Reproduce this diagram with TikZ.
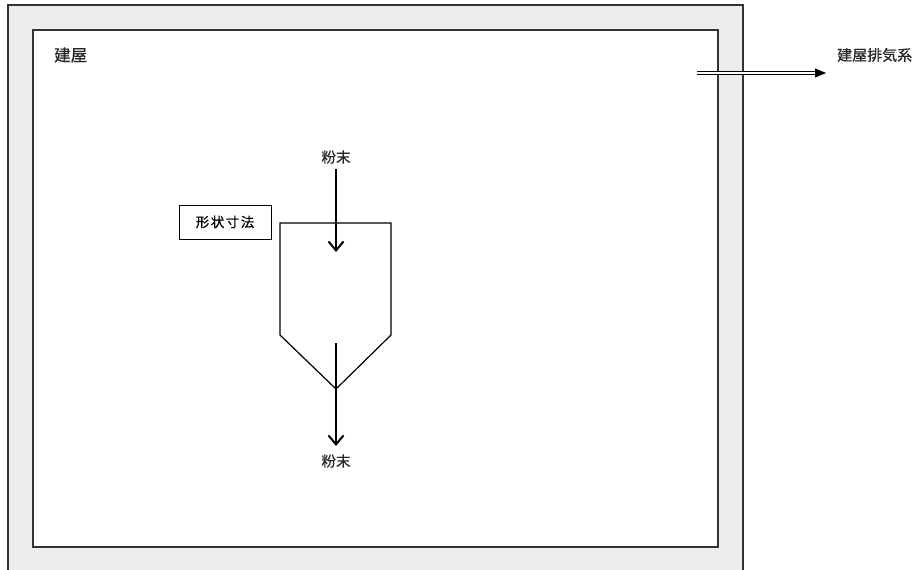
\documentclass[tikz,border=0pt]{standalone}
\usepackage{fontspec}
\newfontfamily\cjk[FakeBold=0.6]{Noto Sans CJK JP}
\usetikzlibrary{arrows.meta}
\begin{document}
\begin{tikzpicture}[x=1pt,y=-1pt,
  wall/.style={draw=black!80, line width=1.2pt},
  flowarrow/.style={line width=2pt, -{Straight Barb[length=9pt,width=15pt,line width=2pt]}},
  lbl/.style={font=\cjk\fontsize{14.5}{16}\selectfont, text=black!85, inner sep=0pt},
  tagbox/.style={draw, line width=1pt, font=\cjk\fontsize{13.5}{15}\selectfont, minimum width=92pt, minimum height=34pt, inner sep=0pt}
]
\useasboundingbox (0,0) rectangle (919,570);
\fill[white] (0,0) rectangle (919,570);
% building walls
\begin{scope}
\clip (0,0) rectangle (919,570);
\draw[wall, fill=black!7] (8,5) rectangle (743,575);
\end{scope}
\draw[wall, fill=white] (33,30) rectangle (718,547);
\node[font=\cjk\fontsize{16.5}{18}\selectfont, text=black!85, anchor=west, inner sep=0pt] (bldg) at (54,55) {建屋};
% exhaust
\coordinate (exA) at (697,73);
\coordinate (exB) at (826,73);
\draw[line width=0.8pt, double, double distance=2pt, -{Triangle[length=11pt,width=9pt]}] (exA) -- (exB);
\node[lbl, font=\cjk\fontsize{15}{17}\selectfont, anchor=west] (exh) at (837,55) {建屋排気系};
% hopper
\coordinate (h1) at (280,223);
\coordinate (h2) at (391,223);
\coordinate (h3) at (391,335);
\coordinate (h4) at (336,389);
\coordinate (h5) at (280,335);
\draw[line width=1.2pt] (h1) -- (h2) -- (h3) -- (h4) -- (h5) -- cycle;
% powder labels
\node[lbl] (pin) at (336,157) {粉末};
\node[lbl] (pout) at (336,461) {粉末};
\coordinate (inS) at (336,169);
\coordinate (inE) at (336,252);
\coordinate (outS) at (336,343);
\coordinate (outE) at (336,446);
\draw[flowarrow] (inS) -- (inE);
\draw[flowarrow] (outS) -- (outE);
% tag box
\node[tagbox] (shape) at (225,222) {形\hspace{1.5pt}状\hspace{1.5pt}寸\hspace{1.5pt}法};
\end{tikzpicture}
\end{document}
